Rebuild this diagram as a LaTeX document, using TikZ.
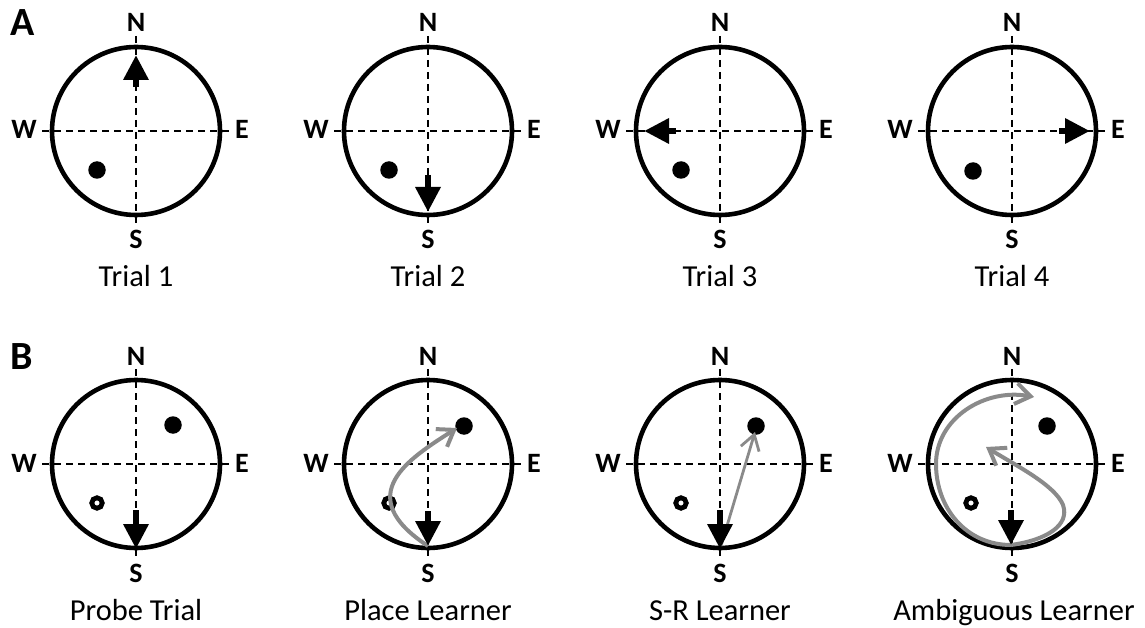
\documentclass[tikz,border=0pt]{standalone}
\usepackage{fontspec}
\setmainfont{Carlito}
\usetikzlibrary{arrows.meta}
\definecolor{pathgray}{RGB}{138,138,138}
\tikzset{
  pool/.style={line width=4.6pt, draw=black},
  axisline/.style={line width=2.2pt, dash pattern=on 7pt off 5pt},
  dirlabel/.style={font=\fontsize{28}{32}\selectfont\bfseries, inner sep=0pt},
  caption/.style={font=\fontsize{30.5}{34}\selectfont, inner sep=0pt, anchor=base},
  panel/.style={font=\fontsize{40}{44}\selectfont\bfseries, inner sep=0pt, anchor=base west},
  platform/.style={circle, fill=black, inner sep=0pt, minimum size=17.5pt},
  oldplat/.style={circle, draw=black, line width=4.8pt, inner sep=0pt, minimum size=10.5pt},
  fat/.style={line width=6.5pt, -{Triangle[width=24pt,length=25pt]}},
  route/.style={draw=pathgray, line width=4pt, -{Straight Barb[length=15pt,width=21pt]}},
  thinroute/.style={draw=pathgray, line width=2.8pt, -{Straight Barb[length=15pt,width=19pt]}},
}
\begin{document}
\begin{tikzpicture}[x=1pt,y=-1pt]
\useasboundingbox (0,0) rectangle (1145,628);
\fill[white] (0,0) rectangle (1145,628);

\foreach \i/\cx/\cy in {1/136/131,2/428/131,3/720/131,4/1012/131,5/136/464,6/428/464,7/720/464,8/1012/464}{
  \coordinate (c\i) at (\cx,\cy);
  \draw[axisline] (\cx-94,\cy) -- (\cx+94,\cy);
  \draw[axisline] (\cx,\cy-95) -- (\cx,\cy+95);
  \draw[pool] (c\i) circle[radius=84];
  \node[dirlabel, anchor=base] (n\i) at (\cx,\cy-99) {N};
  \node[dirlabel, anchor=base] (s\i) at (\cx,\cy+118) {S};
  \node[dirlabel, anchor=base east] (w\i) at (\cx-99,\cy+8) {W};
  \node[dirlabel, anchor=base west] (e\i) at (\cx+99,\cy+8) {E};
}

% panel letters
\node[panel] (lblA) at (10,36) {A};
\node[panel] (lblB) at (10,369) {B};

% captions
\node[caption] (cap1) at (136,287) {Trial 1};
\node[caption] (cap2) at (428,287) {Trial 2};
\node[caption] (cap3) at (720,287) {Trial 3};
\node[caption] (cap4) at (1012,287) {Trial 4};
\node[caption] (cap5) at (136,620) {Probe Trial};
\node[caption] (cap6) at (428,620) {Place Learner};
\node[caption] (cap7) at (720,620) {S-R Learner};
\node[caption] (cap8) at (1014,620) {Ambiguous Learner};

% platforms, row A
\node[platform] (p1) at (97,170) {};
\node[platform] (p2) at (389,170) {};
\node[platform] (p3) at (681,170) {};
\node[platform] (p4) at (973,171) {};

% platforms, row B
\node[platform] (p5) at (173,425) {};
\node[platform] (p6) at (464,426) {};
\node[platform] (p7) at (756,426) {};
\node[platform] (p8) at (1047,426) {};
\node[oldplat] (o5) at (97,503) {};
\node[oldplat] (o6) at (389,503) {};
\node[oldplat] (o7) at (681,503) {};
\node[oldplat] (o8) at (971,503) {};

% gray routes
\draw[route] (428,546) .. controls (350,495) and (410,458) .. (457,428);
\draw[thinroute] (721,546) -- (755,432);
\draw[route] (1011,545) .. controls (966,545) and (936,508) .. (936,464)
  .. controls (936,418) and (985,388) .. (1034,397);
\draw[route] (1011,545) .. controls (1047,540) and (1070,525) .. (1063,505)
  .. controls (1055,485) and (1015,465) .. (986,447);

% start arrows, row A
\coordinate (a1s) at (136,87);  \coordinate (a1t) at (136,55);
\coordinate (a2s) at (428,175); \coordinate (a2t) at (428,212);
\coordinate (a3s) at (676,131); \coordinate (a3t) at (644,131);
\coordinate (a4s) at (1059,131); \coordinate (a4t) at (1090,131);
\draw[fat] (a1s) -- (a1t);
\draw[fat] (a2s) -- (a2t);
\draw[fat] (a3s) -- (a3t);
\draw[fat] (a4s) -- (a4t);

% start arrows, row B
\coordinate (a5s) at (136,510);  \coordinate (a5t) at (136,549);
\coordinate (a6s) at (428,511);  \coordinate (a6t) at (428,546);
\coordinate (a7s) at (720,510);  \coordinate (a7t) at (720,549);
\coordinate (a8s) at (1011,510); \coordinate (a8t) at (1011,545);
\draw[fat] (a5s) -- (a5t);
\draw[fat] (a6s) -- (a6t);
\draw[fat] (a7s) -- (a7t);
\draw[fat] (a8s) -- (a8t);
\end{tikzpicture}
\end{document}
